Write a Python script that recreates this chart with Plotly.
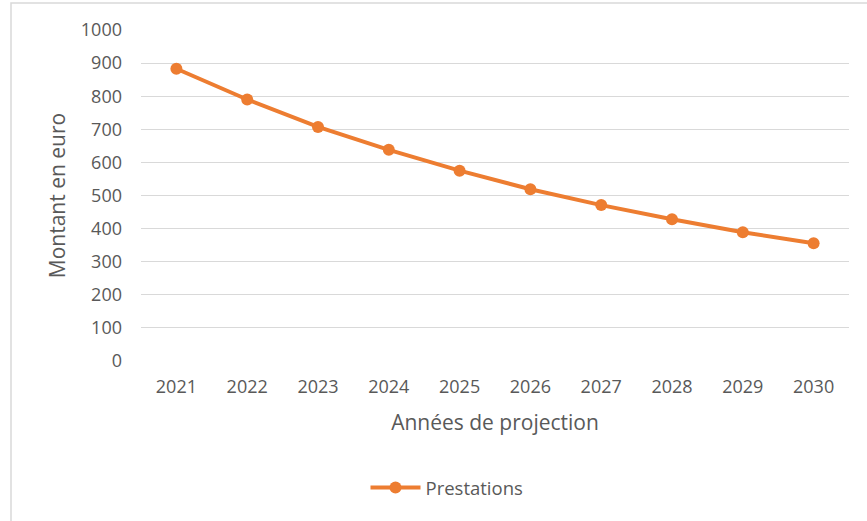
import plotly.graph_objects as go

# Projection data
annees = ["2021", "2022", "2023", "2024", "2025", "2026", "2027", "2028", "2029", "2030"]
prestations = [883, 790, 707, 638, 575, 519, 471, 428, 389, 356]
y_ticks = [0, 100, 200, 300, 400, 500, 600, 700, 800, 900, 1000]

W, H = 867, 521
ML, MR, MT, MB = 141, 18, 30, 160
ORANGE = "#ED7D31"
GREY_TXT = "#595959"
FONT = "Open Sans, Calibri, sans-serif"

fig = go.Figure()
fig.add_trace(go.Scatter(
    x=annees, y=prestations, mode="lines+markers", name="Prestations",
    line=dict(color=ORANGE, width=4),
    marker=dict(color=ORANGE, size=12),
))

pw = W - ML - MR
ph = H - MT - MB

def px_x(v):
    return (v - ML) / pw

def px_y(v):
    return 1 - (v - MT) / ph

# Chart frame
fig.add_shape(type="rect", xref="paper", yref="paper",
              x0=px_x(11), x1=px_x(W + 10), y0=px_y(H + 10), y1=px_y(3),
              line=dict(color="#D9D9D9", width=1.5), fillcolor="rgba(0,0,0,0)")

fig.update_layout(
    width=W, height=H,
    margin=dict(l=ML, r=MR, t=MT, b=MB),
    paper_bgcolor="white", plot_bgcolor="white",
    font=dict(family=FONT, color=GREY_TXT, size=18),
    showlegend=True,
    legend=dict(orientation="h", x=px_x(447), xanchor="center",
                y=px_y(488), yanchor="middle",
                font=dict(size=18.5, color=GREY_TXT, family=FONT), itemwidth=50),
    xaxis=dict(type="category", range=[-0.5, 9.5], showgrid=False, showline=False,
               ticks="", tickfont=dict(size=18, color=GREY_TXT), ticklabelstandoff=13,
               title=dict(text="Années de projection", font=dict(size=21, color=GREY_TXT), standoff=18)),
    yaxis=dict(range=[0, 1000], tickvals=y_ticks, showgrid=True, gridcolor="#D9D9D9", gridwidth=1.2,
               zeroline=False, showline=False, ticks="", tickfont=dict(size=18, color=GREY_TXT),
               ticklabelstandoff=18,
               title=dict(text="Montant en euro", font=dict(size=21, color=GREY_TXT), standoff=9)),
)

fig.write_html("out.html")
